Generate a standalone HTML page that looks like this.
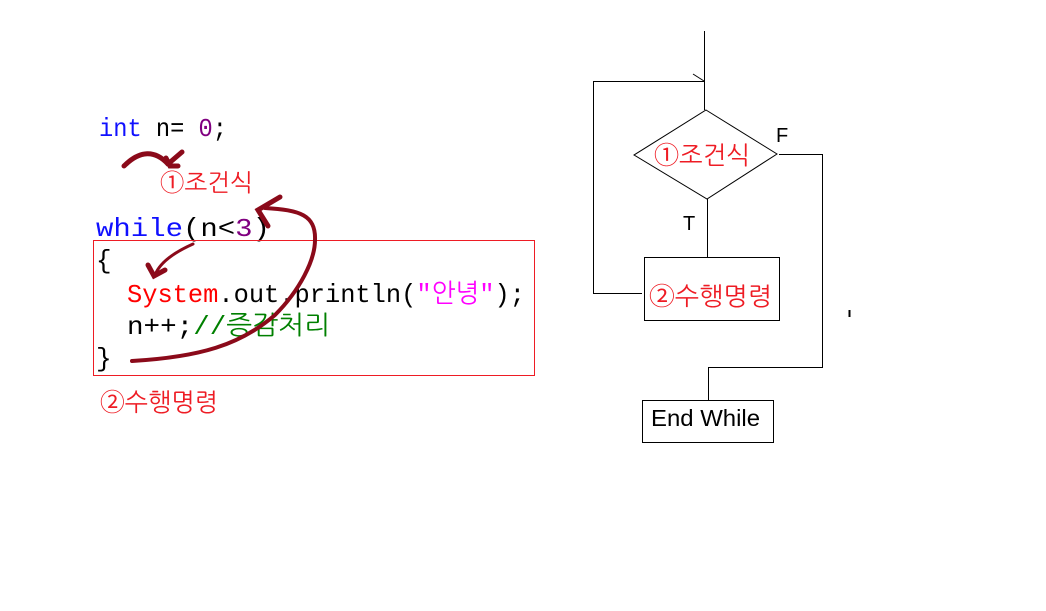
<!DOCTYPE html>
<html><head><meta charset="utf-8"><style>
html,body{margin:0;padding:0;background:#fff;width:1046px;height:611px;overflow:hidden}
text{font-family:"Liberation Mono","NanumGothic","Noto Sans CJK KR",monospace}
.k{font-family:"Liberation Sans","NanumGothic","Noto Sans CJK KR",sans-serif}
</style></head><body>
<svg width="1046" height="611" viewBox="0 0 1046 611" xmlns="http://www.w3.org/2000/svg">
<!-- code -->
<text x="99" y="136" font-size="26" textLength="128" lengthAdjust="spacingAndGlyphs"><tspan fill="#1010ff">int</tspan><tspan fill="#000"> n= </tspan><tspan fill="#800080">0</tspan><tspan fill="#000">;</tspan></text>
<text class="k" x="160" y="191" font-size="24" textLength="93" lengthAdjust="spacingAndGlyphs" fill="#ee1c24">①조건식</text>
<text x="96" y="236" font-size="26" textLength="174" lengthAdjust="spacingAndGlyphs"><tspan fill="#1010ff">while</tspan><tspan fill="#000">(n&lt;</tspan><tspan fill="#800080">3</tspan><tspan fill="#000">)</tspan></text>
<rect x="93.5" y="240.5" width="441" height="135" fill="none" stroke="#ee1c24" stroke-width="1"/>
<text x="96" y="268" font-size="26" fill="#000">{</text>
<text x="127" y="302" font-size="26" textLength="398" lengthAdjust="spacingAndGlyphs"><tspan fill="#ff0000">System</tspan><tspan fill="#000">.out.println(</tspan><tspan fill="#ff00ff">"안녕"</tspan><tspan fill="#000">);</tspan></text>
<text x="127" y="334" font-size="26" textLength="203" lengthAdjust="spacingAndGlyphs"><tspan fill="#000">n++;</tspan><tspan fill="#008000">//증감처리</tspan></text>
<text x="96" y="366" font-size="26" fill="#000">}</text>
<text class="k" x="100" y="411" font-size="25" textLength="118" lengthAdjust="spacingAndGlyphs" fill="#ee1c24">②수행명령</text>
<!-- arrows -->
<g fill="none" stroke="#8b0a1a" stroke-linecap="round">
<path d="M124 166 C140 150 155 150 168 164" stroke-width="5"/>
<path d="M168 164 L182 152 M166 158 L170 166 L178 166" stroke-width="5"/>
<path d="M193 244 C175 252 160 262 155 275" stroke-width="3"/>
<path d="M148 265 L154 276 L165 270" stroke-width="5"/>
<path d="M132 361 C200 357 240 345 275 315 C300 290 315 260 315 240 C316 215 300 210 265 208" stroke-width="4"/>
<path d="M280 197 L258 210 L268 226" stroke-width="5"/>
</g>
<!-- flowchart -->
<g fill="none" stroke="#000" stroke-width="1">
<path d="M704.5 31 V110"/>
<path d="M593.5 81.5 H704.5"/>
<path d="M693 74 L704 81"/>
<path d="M593.5 81 V293.5 H642"/>
<path d="M706 110 L777 154 L707 199 L634 155 Z"/>
<path d="M707.5 199 V257"/>
<rect x="644.5" y="257.5" width="135" height="63"/>
<path d="M779 154.5 H822.5 V367.5 H708.5 V400"/>
<rect x="642.5" y="400.5" width="131" height="42"/>
<path d="M849.5 310 V317" stroke-width="2"/>
</g>
<text class="k" x="654" y="164" font-size="25" textLength="96" lengthAdjust="spacingAndGlyphs" fill="#ee1c24">①조건식</text>
<text class="k" x="776" y="142" font-size="20" fill="#000">F</text>
<text class="k" x="683" y="230" font-size="20" fill="#000">T</text>
<text class="k" x="649" y="305" font-size="25" textLength="123" lengthAdjust="spacingAndGlyphs" fill="#ee1c24">②수행명령</text>
<text class="k" x="651" y="426" font-size="23" textLength="109" lengthAdjust="spacingAndGlyphs" fill="#000">End While</text>
</svg>
</body></html>
